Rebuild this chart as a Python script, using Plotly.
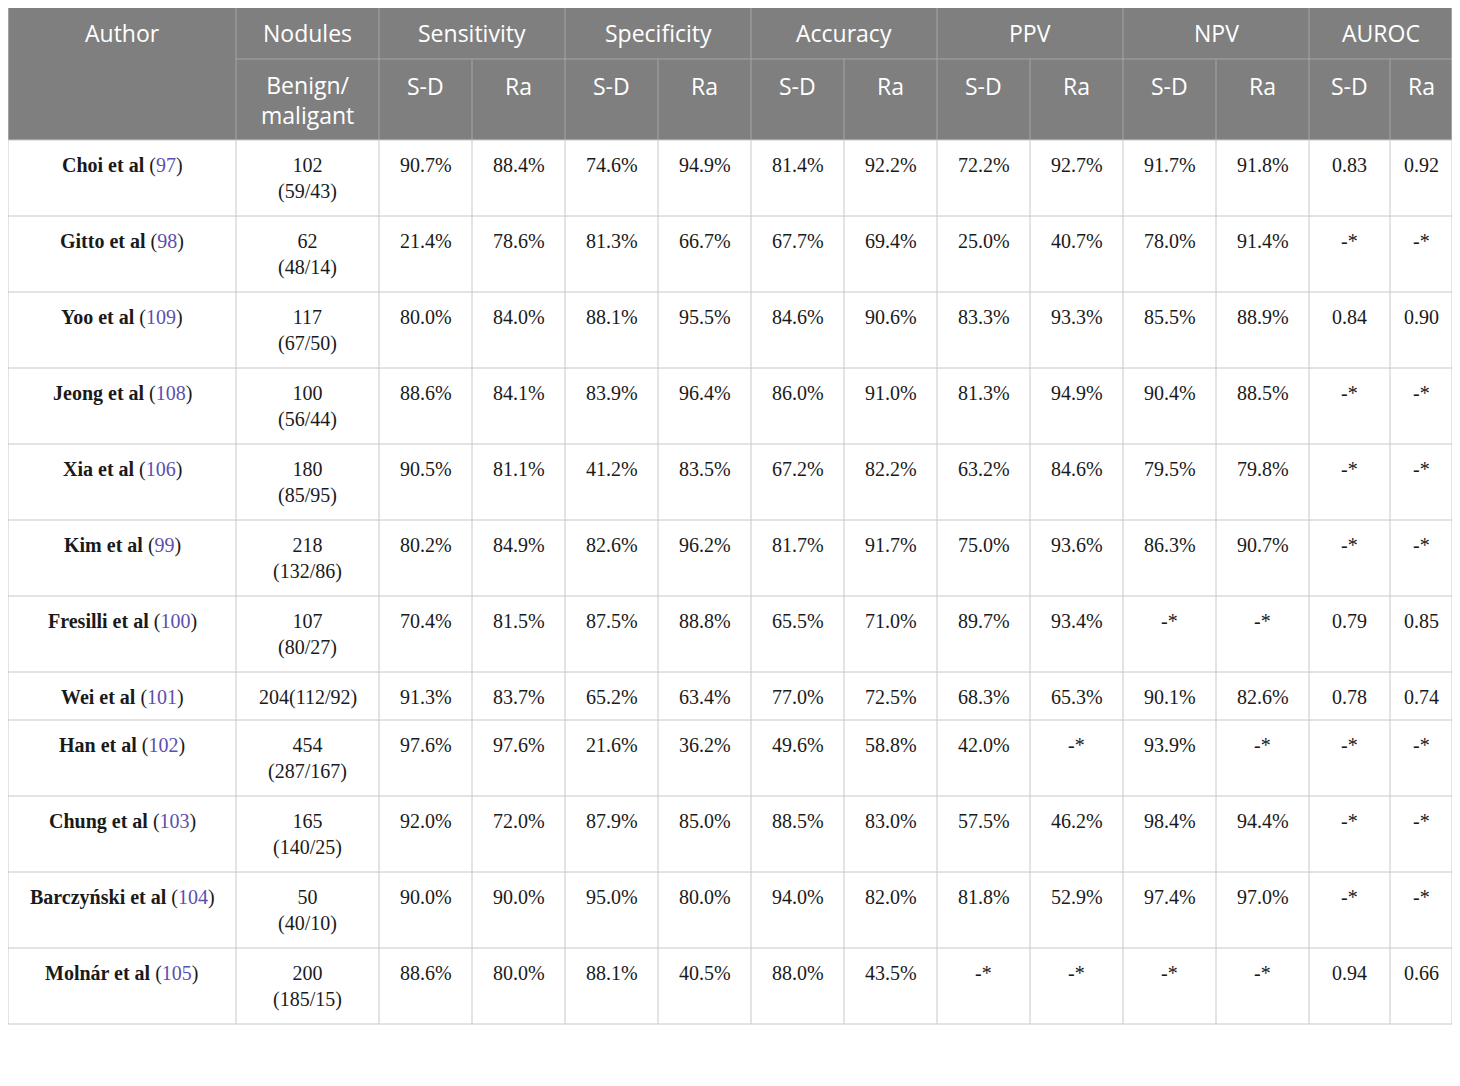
import plotly.graph_objects as go

authors = ["Choi et al", "Gitto et al", "Yoo et al", "Jeong et al", "Xia et al", "Kim et al",
           "Fresilli et al", "Wei et al", "Han et al", "Chung et al", "Barczyński et al", "Molnár et al"]
refs = ["97", "98", "109", "108", "106", "99", "100", "101", "102", "103", "104", "105"]
nodules = ["102<br>(59/43)", "62<br>(48/14)", "117<br>(67/50)", "100<br>(56/44)", "180<br>(85/95)",
           "218<br>(132/86)", "107<br>(80/27)", "204(112/92)", "454<br>(287/167)", "165<br>(140/25)",
           "50<br>(40/10)", "200<br>(185/15)"]
sens_sd = ["90.7%", "21.4%", "80.0%", "88.6%", "90.5%", "80.2%", "70.4%", "91.3%", "97.6%", "92.0%", "90.0%", "88.6%"]
sens_ra = ["88.4%", "78.6%", "84.0%", "84.1%", "81.1%", "84.9%", "81.5%", "83.7%", "97.6%", "72.0%", "90.0%", "80.0%"]
spec_sd = ["74.6%", "81.3%", "88.1%", "83.9%", "41.2%", "82.6%", "87.5%", "65.2%", "21.6%", "87.9%", "95.0%", "88.1%"]
spec_ra = ["94.9%", "66.7%", "95.5%", "96.4%", "83.5%", "96.2%", "88.8%", "63.4%", "36.2%", "85.0%", "80.0%", "40.5%"]
acc_sd = ["81.4%", "67.7%", "84.6%", "86.0%", "67.2%", "81.7%", "65.5%", "77.0%", "49.6%", "88.5%", "94.0%", "88.0%"]
acc_ra = ["92.2%", "69.4%", "90.6%", "91.0%", "82.2%", "91.7%", "71.0%", "72.5%", "58.8%", "83.0%", "82.0%", "43.5%"]
ppv_sd = ["72.2%", "25.0%", "83.3%", "81.3%", "63.2%", "75.0%", "89.7%", "68.3%", "42.0%", "57.5%", "81.8%", "-*"]
ppv_ra = ["92.7%", "40.7%", "93.3%", "94.9%", "84.6%", "93.6%", "93.4%", "65.3%", "-*", "46.2%", "52.9%", "-*"]
npv_sd = ["91.7%", "78.0%", "85.5%", "90.4%", "79.5%", "86.3%", "-*", "90.1%", "93.9%", "98.4%", "97.4%", "-*"]
npv_ra = ["91.8%", "91.4%", "88.9%", "88.5%", "79.8%", "90.7%", "-*", "82.6%", "-*", "94.4%", "97.0%", "-*"]
auc_sd = ["0.83", "-*", "0.84", "-*", "-*", "-*", "0.79", "0.78", "-*", "-*", "-*", "0.94"]
auc_ra = ["0.92", "-*", "0.90", "-*", "-*", "-*", "0.85", "0.74", "-*", "-*", "-*", "0.66"]
groups = ["Sensitivity", "Specificity", "Accuracy", "PPV", "NPV", "AUROC"]
footnote = ("PPV, Positive predictive value; NPV, negative predictive value; AUROC, area under the summary receiver operating characteristic curve; S-D, S-Detect; Ra, Radiologist. ∗The exact data were not<br>"
            "reported in the original articles.")

# layout geometry (pixels)
col_edges = [8, 236, 379, 472, 565, 658, 751, 844, 937, 1030, 1123, 1216, 1309, 1390, 1452]
row_edges = [140, 216, 292, 368, 444, 520, 596, 672, 720, 796, 872, 948, 1024]
H_TOP, H_MID, H_BOT = 8, 59, 140

HDR_BG = "#7f7f7f"
HDR_LINE = "#a6a6a6"
GRID = "#c8c8c8"
REF = "#5b4fb0"
SERIF = "Liberation Serif, Times New Roman, serif"
SANS = "Open Sans, sans-serif"

fig = go.Figure()
shapes = []
ann = []

L, R = col_edges[0], col_edges[-1]
shapes.append(dict(type="rect", x0=L, x1=R, y0=H_TOP, y1=H_BOT, fillcolor=HDR_BG, line_width=0, layer="below"))
shapes.append(dict(type="line", x0=col_edges[1], x1=R, y0=H_MID, y1=H_MID, line=dict(color=HDR_LINE, width=1)))
for i, x in enumerate(col_edges[1:-1], start=1):
    y0 = H_TOP if (i <= 2 or i % 2 == 0) else H_MID
    shapes.append(dict(type="line", x0=x, x1=x, y0=y0, y1=H_BOT, line=dict(color=HDR_LINE, width=1)))

def hdr(text, x, y):
    ann.append(dict(x=x, y=y, text=text, showarrow=False, xanchor="center", yanchor="middle",
                    font=dict(family=SANS, size=23, color="white")))

hdr("Author", (col_edges[0] + col_edges[1]) / 2, 33)
hdr("Nodules", (col_edges[1] + col_edges[2]) / 2, 33)
hdr("Benign/<br>maligant", (col_edges[1] + col_edges[2]) / 2, 100)
for g, name in enumerate(groups):
    a, b, c = col_edges[2 + 2 * g], col_edges[3 + 2 * g], col_edges[4 + 2 * g]
    hdr(name, (a + c) / 2, 33)
    hdr("S-D", (a + b) / 2, 86)
    hdr("Ra", (b + c) / 2, 86)

for y in row_edges:
    shapes.append(dict(type="line", x0=L, x1=R, y0=y, y1=y, line=dict(color=GRID, width=1)))
for x in col_edges:
    shapes.append(dict(type="line", x0=x, x1=x, y0=H_TOP if x in (L, R) else H_BOT, y1=row_edges[-1],
                       line=dict(color=GRID, width=1)))

cols = [nodules, sens_sd, sens_ra, spec_sd, spec_ra, acc_sd, acc_ra, ppv_sd, ppv_ra, npv_sd, npv_ra, auc_sd, auc_ra]
for r in range(len(authors)):
    top = row_edges[r] + 12
    ann.append(dict(x=(col_edges[0] + col_edges[1]) / 2, y=top, showarrow=False, xanchor="center", yanchor="top",
                    text=f"<b>{authors[r]}</b> (<span style='color:{REF}'>{refs[r]}</span>)",
                    font=dict(family=SERIF, size=20, color="#1a1a1a")))
    for c, vals in enumerate(cols):
        ann.append(dict(x=(col_edges[c + 1] + col_edges[c + 2]) / 2, y=top, showarrow=False, xanchor="center",
                        yanchor="top", text=vals[r], font=dict(family=SERIF, size=20, color="#1a1a1a")))

ann.append(dict(x=5, y=1031, showarrow=False, xanchor="left", yanchor="top", align="left", text=footnote,
                font=dict(family=SERIF, size=18, color="#1a1a1a")))

# page body has an 8px margin; offset axis ranges so pixel coordinates line up
fig.update_layout(width=1460, height=1086, margin=dict(l=0, r=0, t=0, b=0),
                  plot_bgcolor="white", paper_bgcolor="white", shapes=shapes, annotations=ann,
                  xaxis=dict(range=[8, 1468], visible=False, fixedrange=True),
                  yaxis=dict(range=[1094, 8], visible=False, fixedrange=True), showlegend=False)
fig.write_html("out.html", config={"displayModeBar": False})
